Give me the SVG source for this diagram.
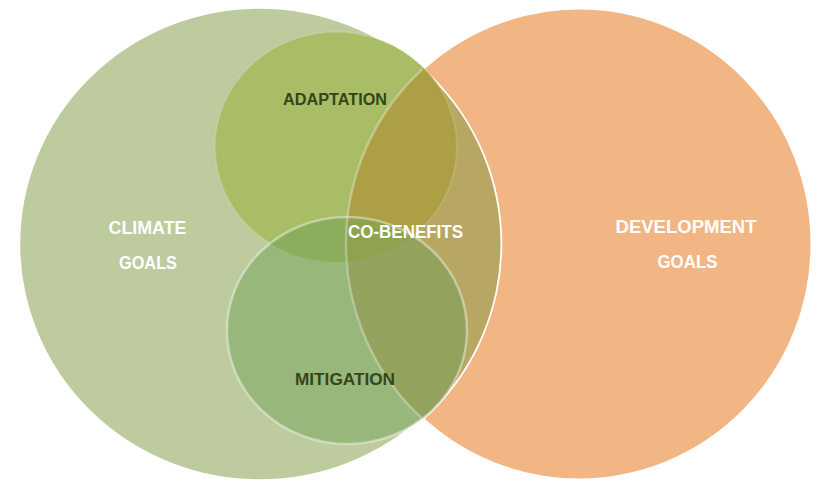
<svg xmlns="http://www.w3.org/2000/svg" width="817" height="481" viewBox="0 0 817 481">
<style>
.lbl{font-family:"Liberation Sans",Arial,sans-serif;font-weight:bold;text-anchor:middle}
.w{fill:#ffffff;font-size:19px}
.d{fill:#36451c;font-size:17px}
</style>
<defs>
<clipPath id="cO"><ellipse cx="579" cy="244" rx="233" ry="236"/></clipPath>
<clipPath id="cG"><ellipse cx="259.5" cy="244" rx="241" ry="237"/></clipPath>
<clipPath id="cA"><ellipse cx="336" cy="147" rx="121" ry="115"/></clipPath>
</defs>
<rect width="817" height="481" fill="#ffffff"/>
<g id="development">
<ellipse cx="579" cy="244" rx="233" ry="236" fill="#f2b584" stroke="#ffffff" stroke-width="3"/>
</g>
<g id="climate">
<ellipse cx="259.5" cy="244" rx="241" ry="237" fill="#bdcb9f" stroke="#ffffff" stroke-width="3.5"/>
<g clip-path="url(#cG)"><ellipse cx="579" cy="244" rx="233" ry="236" fill="#b8a763"/></g>
</g>
<g id="adaptation">
<ellipse cx="336" cy="147" rx="121" ry="115" fill="#a9bd66"/>
<g clip-path="url(#cO)"><ellipse cx="336" cy="147" rx="121" ry="115" fill="#ad9f46"/></g>
<ellipse cx="336" cy="147" rx="121" ry="115" fill="none" stroke="#ffffff" stroke-opacity="0.12" stroke-width="2"/>
</g>
<g id="mitigation">
<ellipse cx="347" cy="330.5" rx="120" ry="113.5" fill="#97b77b"/>
<g clip-path="url(#cO)"><ellipse cx="347" cy="330.5" rx="120" ry="113.5" fill="#93a35e"/></g>
<g clip-path="url(#cA)"><ellipse cx="347" cy="330.5" rx="120" ry="113.5" fill="#8cad5c"/></g>
<g clip-path="url(#cA)"><g clip-path="url(#cO)"><ellipse cx="347" cy="330.5" rx="120" ry="113.5" fill="#8fa24e"/></g></g>
<ellipse cx="347" cy="330.5" rx="120" ry="113.5" fill="none" stroke="#ffffff" stroke-opacity="0.4" stroke-width="2.5"/>
</g>
<g id="overlap-edge" clip-path="url(#cG)">
<ellipse cx="579" cy="244" rx="233" ry="236" fill="none" stroke="#ffffff" stroke-opacity="0.3" stroke-width="2.5"/>
</g>
<g id="labels">
<text class="lbl d" x="335" y="104.5" textLength="104" lengthAdjust="spacingAndGlyphs">ADAPTATION</text>
<text class="lbl d" x="345" y="384.5" textLength="100" lengthAdjust="spacingAndGlyphs">MITIGATION</text>
<text class="lbl w" x="405.5" y="237.5" textLength="115" lengthAdjust="spacingAndGlyphs">CO-BENEFITS</text>
<text class="lbl w" x="147.5" y="233.5" textLength="78" lengthAdjust="spacingAndGlyphs">CLIMATE</text>
<text class="lbl w" x="148" y="268.5" textLength="58" lengthAdjust="spacingAndGlyphs">GOALS</text>
<text class="lbl w" x="686" y="232.5" textLength="141" lengthAdjust="spacingAndGlyphs">DEVELOPMENT</text>
<text class="lbl w" x="687.5" y="268" textLength="60" lengthAdjust="spacingAndGlyphs">GOALS</text>
</g>
</svg>
